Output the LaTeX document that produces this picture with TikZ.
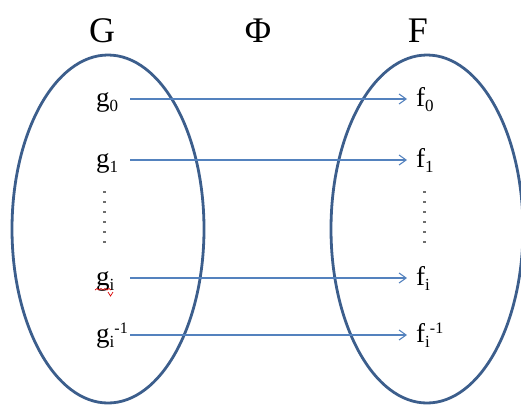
\documentclass[tikz,border=0pt]{standalone}
\usepackage{fontspec}
\setmainfont{Liberation Serif}
\usetikzlibrary{arrows.meta}
\definecolor{ellblue}{RGB}{60,94,140}
\definecolor{arrblue}{RGB}{84,130,190}
\definecolor{dotgrey}{RGB}{110,110,110}
\newcommand{\subx}[1]{\raisebox{-5pt}{\fontsize{17}{17}\selectfont #1}}
\newcommand{\supx}[1]{\raisebox{9pt}{\fontsize{16}{16}\selectfont #1}}
\tikzset{
  setell/.style={draw=ellblue, line width=2.8pt},
  title/.style={anchor=base, inner sep=0pt, font=\fontsize{36}{40}\selectfont},
  elem/.style={anchor=base west, inner sep=0pt, font=\fontsize{27}{30}\selectfont},
  maparr/.style={draw=arrblue, line width=1.1pt, -{Straight Barb[length=7pt,width=10pt,line width=1.1pt]}},
  dotmark/.style={fill=dotgrey, draw=none, minimum size=2.8pt, inner sep=0pt, rectangle}
}
\begin{document}
\begin{tikzpicture}[x=1pt,y=-1pt]
\useasboundingbox (0,0) rectangle (521,405);
% sets
\draw[setell] (108,229) ellipse [x radius=96, y radius=174];
\draw[setell] (427,229) ellipse [x radius=96, y radius=174];
% titles
\node[title] (G) at (102,42) {G};
\node[title] (Phi) at (258,42) {Φ};
\node[title] (F) at (418,42) {F};
% elements of G
\node[elem] (g0) at (96,106) {g\subx{0}};
\node[elem] (g1) at (96,167) {g\subx{1}};
\node[elem] (gi) at (96,285) {g\subx{i}};
\node[elem] (gim) at (96,342) {g\subx{i}\supx{-1}};
% elements of F
\node[elem] (f0) at (416,106) {f\subx{0}};
\node[elem] (f1) at (416,167) {f\subx{1}};
\node[elem] (fi) at (416,285) {f\subx{i}};
\node[elem] (fim) at (416,342) {f\subx{i}\supx{-1}};
% arrow end points
\coordinate (s0) at (130,99);  \coordinate (e0) at (407,99);
\coordinate (s1) at (130,160); \coordinate (e1) at (407,160);
\coordinate (si) at (130,278); \coordinate (ei) at (407,278);
\coordinate (sm) at (130,335); \coordinate (em) at (407,335);
\draw[maparr] (s0) -- (e0);
\draw[maparr] (s1) -- (e1);
\draw[maparr] (si) -- (ei);
\draw[maparr] (sm) -- (em);
% vertical dots
\foreach \k in {0,...,5}{
  \node[dotmark] (ld\k) at (104.5,192+10*\k) {};
  \node[dotmark] (rd\k) at (424.5,192+10*\k) {};
}
% spell-check squiggle under g_i
\draw[red!85!black, line width=0.7pt] (95,290) -- (97,288.5) -- (99,290) -- (101,288.5) -- (103,290) -- (105,288.5) -- (107,290) -- (109,288.5) -- (111,290);
\draw[red!85!black, line width=0.7pt] (108,292) -- (110.5,296) -- (113,292);
\end{tikzpicture}
\end{document}
